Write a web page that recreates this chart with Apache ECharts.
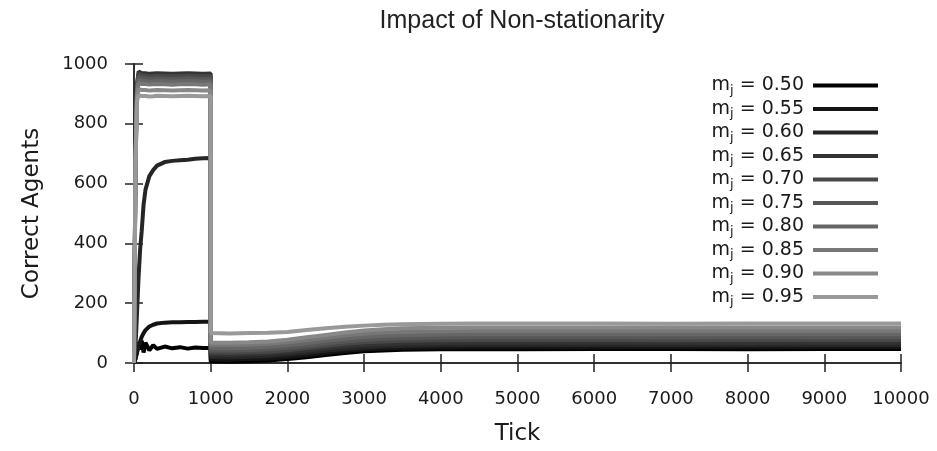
<!DOCTYPE html>
<html>
<head>
<meta charset="utf-8">
<script src="https://cdn.jsdelivr.net/npm/echarts@6/dist/echarts.min.js"></script>
<style>html,body{margin:0;padding:0;background:#fff}#c{width:937px;height:451px}</style>
</head>
<body>
<div id="c"></div>
<script>
// Tick positions (1000 appears twice: before and after the environment switch)
var ticks = [0, 20, 40, 60, 80, 100, 125, 150, 200, 250, 300, 400, 500, 600, 700, 800, 900, 1000,
             1000, 1250, 1500, 1750, 2000, 2250, 2500, 2750, 3000, 3250, 3500, 4000, 4500, 5000, 6000, 7000, 8000, 9000, 10000];

var mjLabels = ['0.50', '0.55', '0.60', '0.65', '0.70', '0.75', '0.80', '0.85', '0.90', '0.95'];

var mj050 = [0, 15, 40, 70, 45, 75, 35, 68, 42, 60, 47, 55, 49, 53, 48, 52, 50, 50,
             5, 4, 6, 8, 13, 19, 27, 33, 39, 42, 44, 46, 47, 46, 47, 47, 46, 47, 47];
var mj055 = [0, 15, 35, 55, 72, 87, 100, 110, 122, 128, 132, 135, 136, 136, 137, 137, 138, 138,
             12, 11, 13, 15, 20, 26, 33, 40, 45, 48, 50, 52, 53, 53, 52, 53, 53, 53, 53];
var mj060 = [0, 60, 170, 290, 380, 440, 530, 580, 625, 645, 660, 672, 676, 678, 680, 683, 685, 686,
             20, 19, 21, 23, 28, 34, 41, 47, 52, 55, 57, 59, 60, 60, 60, 59, 60, 60, 60];
var mj065 = [0, 720, 935, 975, 972, 970, 968, 969, 967, 968, 969, 968, 967, 968, 969, 968, 967, 968,
             28, 27, 29, 31, 36, 42, 49, 55, 60, 63, 65, 67, 68, 68, 68, 68, 67, 68, 68];
var mj070 = [0, 710, 930, 968, 966, 962, 960, 961, 959, 960, 961, 960, 959, 960, 961, 960, 959, 960,
             35, 34, 36, 38, 43, 50, 57, 64, 69, 72, 74, 76, 77, 77, 77, 76, 77, 77, 77];
var mj075 = [0, 700, 925, 958, 955, 952, 951, 952, 950, 951, 952, 951, 950, 951, 952, 951, 950, 951,
             42, 42, 43, 46, 51, 57, 65, 72, 77, 81, 83, 85, 86, 86, 86, 86, 86, 85, 86];
var mj080 = [0, 690, 915, 948, 945, 943, 942, 943, 941, 942, 943, 942, 941, 942, 943, 942, 941, 942,
             50, 49, 51, 54, 59, 66, 74, 81, 87, 91, 93, 95, 96, 96, 96, 96, 96, 96, 96];
var mj085 = [0, 680, 905, 936, 934, 933, 932, 933, 931, 932, 933, 932, 931, 932, 933, 932, 931, 932,
             60, 60, 61, 64, 69, 76, 84, 92, 98, 102, 104, 106, 107, 107, 107, 107, 107, 107, 107];
var mj090 = [0, 670, 890, 916, 914, 913, 912, 913, 911, 912, 913, 912, 911, 912, 913, 912, 911, 912,
             68, 68, 69, 72, 78, 86, 94, 102, 109, 113, 116, 118, 119, 119, 119, 119, 119, 119, 119];
var mj095 = [0, 660, 875, 896, 894, 893, 892, 893, 891, 892, 894, 893, 892, 893, 894, 893, 892, 893,
             100, 99, 100, 101, 104, 110, 116, 121, 125, 128, 130, 131, 132, 132, 132, 131, 132, 132, 132];

var seriesValues = [mj050, mj055, mj060, mj065, mj070, mj075, mj080, mj085, mj090, mj095];
var colors = ['#000000', '#141414', '#262626', '#333333', '#484848', '#575757', '#666666', '#777777', '#888888', '#999999'];

var xTicks = {min: 0, max: 10000, interval: 1000};
var yTicks = {min: 0, max: 1000, interval: 200};

var FONT = 'DejaVu Sans';
var axisLineStyle = {color: '#222', width: 1.5};
var plain = function (v) { return String(v); };

var series = seriesValues.map(function (vals, i) {
  return {
    name: mjLabels[i],
    type: 'line',
    symbol: 'none',
    showSymbol: false,
    animation: false,
    lineStyle: {width: 4, color: colors[i]},
    itemStyle: {color: colors[i]},
    data: ticks.map(function (t, k) { return [t, vals[k]]; })
  };
});

var chart = echarts.init(document.getElementById('c'), null, {renderer: 'canvas'});
chart.setOption({
  backgroundColor: '#fff',
  animation: false,
  title: {
    text: 'Impact of Non-stationarity',
    left: 517, top: 4, textAlign: 'center',
    textStyle: {fontFamily: 'Liberation Sans Narrow, Liberation Sans', fontSize: 25, fontWeight: 'normal', color: '#222'}
  },
  grid: {left: 134, right: 36, top: 64, bottom: 81, containLabel: false},
  legend: {
    orient: 'vertical',
    right: 54, top: 69,
    align: 'right',
    icon: 'rect',
    itemWidth: 65, itemHeight: 4,
    itemGap: 0.5,
    data: mjLabels,
    formatter: function (n) { return '{a|m}{b|j}{a| = ' + n + '}'; },
    textStyle: {
      fontFamily: FONT, fontSize: 19, color: '#1a1a1a', padding: [0, 4, 0, 0],
      rich: {
        a: {fontFamily: FONT, fontSize: 19, color: '#1a1a1a', lineHeight: 20},
        b: {fontFamily: FONT, fontSize: 13, color: '#1a1a1a', lineHeight: 20, padding: [10, 0, 0, 0]}
      }
    }
  },
  xAxis: [{
    type: 'value', position: 'bottom', min: xTicks.min, max: xTicks.max, interval: xTicks.interval,
    name: 'Tick', nameLocation: 'middle', nameGap: 60,
    nameTextStyle: {fontFamily: FONT, fontSize: 23, color: '#1a1a1a'},
    axisLine: {show: true, lineStyle: axisLineStyle},
    axisTick: {show: true, inside: false, length: 9, lineStyle: axisLineStyle},
    axisLabel: {fontFamily: FONT, fontSize: 18, color: '#1a1a1a', margin: 27, formatter: plain},
    splitLine: {show: false}
  }, {
    type: 'value', position: 'top', min: xTicks.min, max: xTicks.max, interval: xTicks.interval,
    axisLine: {show: true, lineStyle: axisLineStyle},
    axisTick: {show: true, inside: false, length: 9, lineStyle: axisLineStyle},
    axisLabel: {show: false},
    splitLine: {show: false}
  }],
  yAxis: [{
    type: 'value', position: 'left', min: yTicks.min, max: yTicks.max, interval: yTicks.interval,
    name: 'Correct Agents', nameLocation: 'middle', nameGap: 90,
    nameTextStyle: {fontFamily: FONT, fontSize: 23, color: '#1a1a1a'},
    axisLine: {show: true, lineStyle: axisLineStyle},
    axisTick: {show: true, inside: false, length: 9, lineStyle: axisLineStyle},
    axisLabel: {fontFamily: FONT, fontSize: 18, color: '#1a1a1a', margin: 26, formatter: plain},
    splitLine: {show: false}
  }, {
    type: 'value', position: 'right', min: yTicks.min, max: yTicks.max, interval: yTicks.interval,
    axisLine: {show: true, lineStyle: axisLineStyle},
    axisTick: {show: true, inside: false, length: 9, lineStyle: axisLineStyle},
    axisLabel: {show: false},
    splitLine: {show: false}
  }],
  series: series
});
</script>
</body>
</html>
